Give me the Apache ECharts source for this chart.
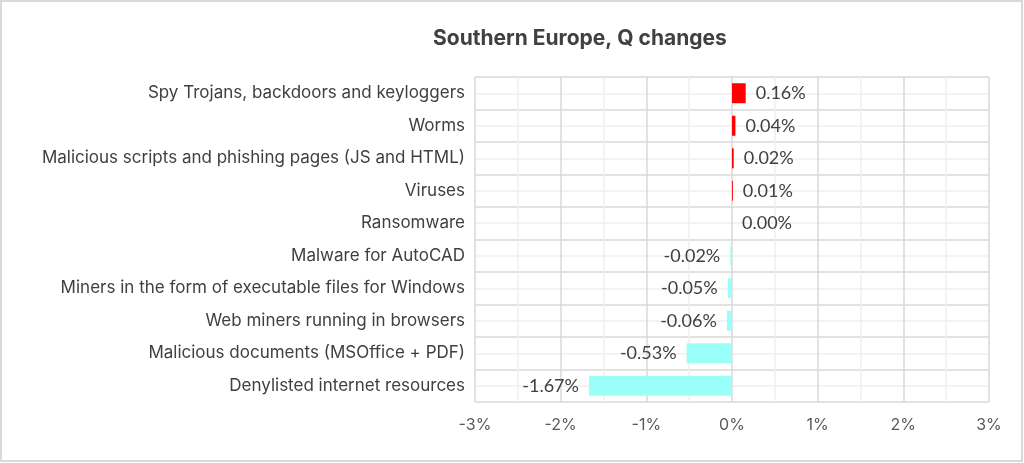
<!DOCTYPE html>
<html>
<head>
<meta charset="utf-8">
<script src="https://cdn.jsdelivr.net/npm/echarts@6/dist/echarts.min.js"></script>
<style>
  html, body { margin: 0; padding: 0; background: #fff; }
  #chart { width: 1024px; height: 463px; }
</style>
</head>
<body>
<div id="chart"></div>
<script>
// categories top to bottom
const categories = [
  'Spy Trojans, backdoors and keyloggers',
  'Worms',
  'Malicious scripts and phishing pages (JS and HTML)',
  'Viruses',
  'Ransomware',
  'Malware for AutoCAD',
  'Miners in the form of executable files for Windows',
  'Web miners running in browsers',
  'Malicious documents (MSOffice + PDF)',
  'Denylisted internet resources'
]
// quarter change, percent
const changes = [0.16, 0.04, 0.02, 0.01, 0.00, -0.02, -0.05, -0.06, -0.53, -1.67]
const xTicks = [-3, -2, -1, 0, 1, 2, 3]

const chart = echarts.init(document.getElementById('chart'))

const labelFont = '"Inter", "Noto Sans", sans-serif'
const valueFont = '"Lato", "Liberation Sans", sans-serif'

let options = {
  backgroundColor: '#fff',
  animation: false,
  title: {
    text: 'Southern Europe, Q changes',
    left: 428,
    top: 23,
    textStyle: { fontFamily: labelFont, fontSize: 21, fontWeight: 'bold', color: '#404040' }
  },
  graphic: [{
    type: 'rect',
    shape: { x: 1, y: 1, width: 1021, height: 460 },
    style: { fill: 'none', stroke: '#d9d9d9', lineWidth: 2 },
    silent: true
  }],
  grid: { left: 475, right: 35, top: 77, bottom: 61 },
  xAxis: {
    type: 'value',
    min: xTicks[0],
    max: xTicks[xTicks.length - 1],
    interval: 1,
    axisLine: { show: false },
    axisTick: { show: false },
    axisLabel: {
      margin: 15,
      formatter: v => v + '%',
      fontFamily: labelFont, fontSize: 16, color: '#595959'
    },
    splitLine: { show: true, lineStyle: { color: '#d9d9d9', width: 1.5 } },
    minorTick: { show: false, splitNumber: 2 },
    minorSplitLine: { show: true, lineStyle: { color: '#efefef', width: 1.5 } }
  },
  yAxis: [
    {
      type: 'category',
      data: categories,
      inverse: true,
      axisLine: { show: false },
      axisTick: { show: false },
      splitLine: { show: false },
      axisLabel: { margin: 10, fontFamily: labelFont, fontSize: 17, color: '#404040' }
    },
    {
      // only draws the horizontal grid (rows + row centres)
      type: 'value',
      min: 0,
      max: categories.length,
      interval: 1,
      position: 'left',
      axisLine: { show: false },
      axisTick: { show: false },
      axisLabel: { show: false },
      splitLine: { show: true, lineStyle: { color: '#d9d9d9', width: 1.5 } },
      minorTick: { show: false, splitNumber: 2 },
      minorSplitLine: { show: true, lineStyle: { color: '#efefef', width: 1.5 } }
    }
  ],
  series: [
    {
      type: 'bar',
      yAxisIndex: 0,
      barWidth: 20,
      data: changes.map(v => ({
        value: v,
        itemStyle: { color: v >= 0 ? '#ff0000' : '#9bfff9' },
        label: { position: v >= 0 ? 'right' : 'left' }
      })),
      label: {
        show: true,
        distance: 10,
        formatter: p => p.value.toFixed(2) + '%',
        fontFamily: valueFont, fontSize: 18, color: '#404040'
      }
    }
  ]
}
chart.setOption(options, true)
</script>
</body>
</html>
